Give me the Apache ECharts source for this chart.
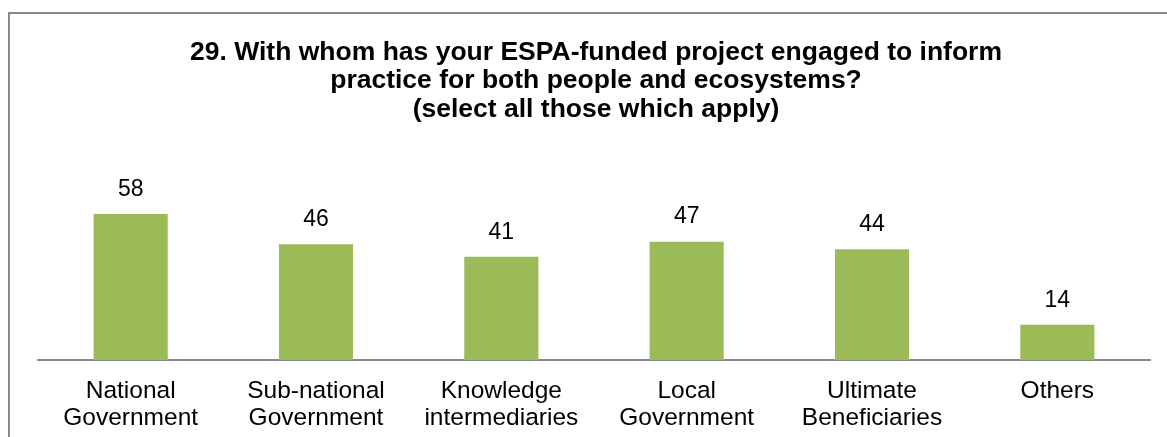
<!DOCTYPE html>
<html>
<head>
<meta charset="utf-8">
<script src="https://cdn.jsdelivr.net/npm/echarts@6/dist/echarts.min.js"></script>
<style>
  html, body { margin: 0; padding: 0; background: #ffffff; }
  #chart { width: 1167px; height: 437px; }
</style>
</head>
<body>
<div id="chart"></div>
<script>
// Survey question 29: stakeholders engaged, number of responses per group
const categories = [
  'National\nGovernment',
  'Sub-national\nGovernment',
  'Knowledge\nintermediaries',
  'Local\nGovernment',
  'Ultimate\nBeneficiaries',
  'Others'
];
const responses = [58, 46, 41, 47, 44, 14];
const titleLines = [
  '29. With whom has your ESPA-funded project engaged to inform',
  'practice for both people and ecosystems?',
  '(select all those which apply)'
];

const chart = echarts.init(document.getElementById('chart'), null, { renderer: 'canvas' });
const FONT = '"Liberation Sans", Arial, sans-serif';

chart.setOption({
  animation: false,
  backgroundColor: '#ffffff',
  title: {
    text: titleLines.join('\n'),
    left: 591,
    top: 33,
    textAlign: 'center',
    textStyle: {
      fontFamily: FONT,
      fontWeight: 'bold',
      fontSize: 26.5,
      lineHeight: 28.5,
      color: '#000000'
    }
  },
  grid: { left: 38, right: 17, top: 183.7, bottom: 77, containLabel: false },
  xAxis: {
    type: 'category',
    data: categories,
    axisLine: { show: true, lineStyle: { color: '#898989', width: 2 } },
    axisTick: { show: false },
    axisLabel: {
      margin: 17,
      interval: 0,
      fontFamily: FONT,
      fontSize: 24.5,
      lineHeight: 27.5,
      color: '#000000'
    }
  },
  yAxis: {
    type: 'value',
    min: 0,
    max: 70,
    show: false,
    splitLine: { show: false }
  },
  series: [{
    type: 'bar',
    data: responses,
    barWidth: '40%',
    itemStyle: { color: '#9BBB59' },
    label: {
      show: true,
      position: 'top',
      distance: 13,
      fontFamily: FONT,
      fontSize: 23,
      color: '#000000'
    }
  }],
  graphic: [{
    type: 'rect',
    silent: true,
    shape: { x: 9, y: 13, width: 1300, height: 600 },
    style: { fill: 'none', stroke: '#898989', lineWidth: 2 }
  }]
});
</script>
</body>
</html>
